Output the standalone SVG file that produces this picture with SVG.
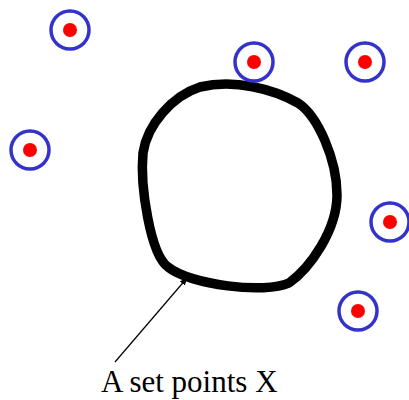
<svg xmlns="http://www.w3.org/2000/svg" width="409" height="400" viewBox="0 0 409 400">
<style>
.ring{fill:none;stroke:#3333cc;stroke-width:3.5}
.dot{fill:#ff0000}
.set{fill:none;stroke:#000;stroke-width:9.5;stroke-linejoin:round}
.conn{stroke:#000;stroke-width:1.2;fill:none}
.label{font-family:"Liberation Serif",serif;font-size:31px;fill:#000}
</style>
<defs>
<marker id="ah" viewBox="0 0 10 10" refX="9" refY="5" markerWidth="8" markerHeight="8" markerUnits="userSpaceOnUse" orient="auto">
<path d="M0,1 L10,5 L0,9 Z" fill="#000"/>
</marker>
</defs>
<rect width="409" height="400" fill="#fff"/>
<g id="set-x">
<path class="set" d="M200,87 C235,79 273,89 298,103 C318,116 337,160 337,195 C337,230 310,268 289,283 C265,294 190,285 168,267 C150,254 140,185 143,153 C147,125 172,96 200,87 Z"/>
</g>
<g id="p1"><circle class="ring" cx="70" cy="30" r="19"/><circle class="dot" cx="70" cy="30" r="7"/></g>
<g id="p2"><circle class="ring" cx="30" cy="150" r="19"/><circle class="dot" cx="30" cy="150" r="7"/></g>
<g id="p3"><circle class="ring" cx="254" cy="62" r="19"/><circle class="dot" cx="254" cy="62" r="7"/></g>
<g id="p4"><circle class="ring" cx="365" cy="62" r="19"/><circle class="dot" cx="365" cy="62" r="7"/></g>
<g id="p5"><circle class="ring" cx="390" cy="222" r="19"/><circle class="dot" cx="390" cy="222" r="7"/></g>
<g id="p6"><circle class="ring" cx="358" cy="311" r="19"/><circle class="dot" cx="358" cy="311" r="7"/></g>
<g id="connectors">
<line class="conn" x1="115" y1="362" x2="187" y2="278" marker-end="url(#ah)"/>
</g>
<g id="label">
<text class="label" x="101" y="392">A set points X</text>
</g>
</svg>
